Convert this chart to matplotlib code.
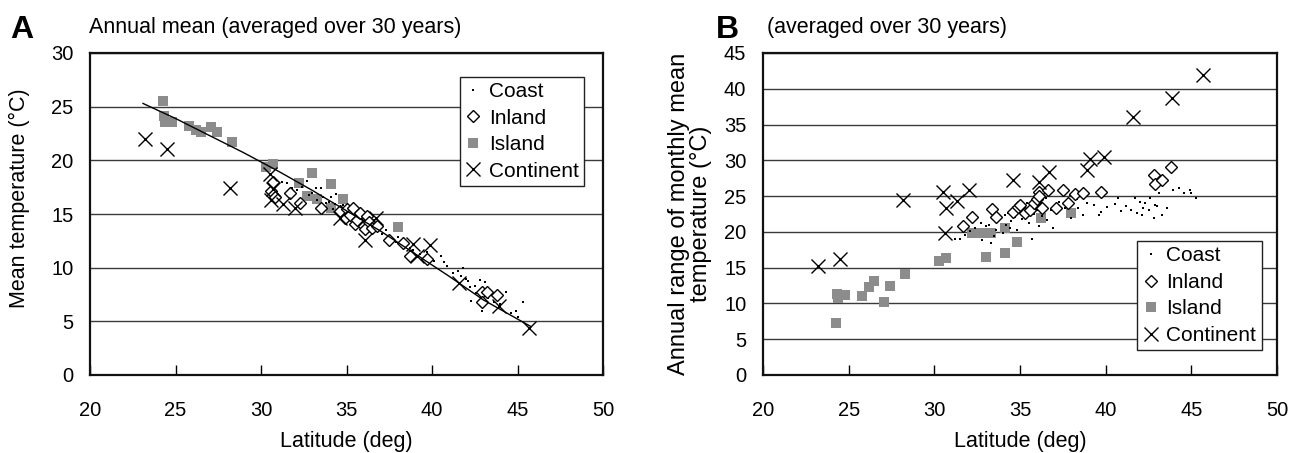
import matplotlib
matplotlib.use("Agg")
import matplotlib.pyplot as plt

plt.rcParams['font.family'] = ['Liberation Sans', 'DejaVu Sans']

# ---------------- data ----------------
coast_lat = [31.2, 31.5, 31.8, 32.1, 32.4, 32.7, 32.8, 33.0, 33.2, 33.3, 33.5, 33.6, 33.8, 34.0,
             34.1, 34.2, 34.3, 34.4, 34.5, 34.6, 34.7, 34.8, 34.9, 35.0, 35.1, 35.2, 35.3, 35.4,
             35.5, 35.6, 35.7, 35.8, 35.9, 36.0, 36.1, 36.2, 36.3, 36.4, 36.5, 36.6, 36.8, 36.9,
             37.1, 37.3, 37.6, 38.0, 38.3, 38.4, 38.7, 38.9, 39.3, 39.6, 39.7, 40.1, 40.55, 40.7,
             40.9, 41.2, 41.5, 41.7, 41.8, 42.0, 42.1, 42.2, 42.3, 42.6, 42.8, 42.9, 43.1, 43.3,
             43.6, 43.95, 44.3, 44.6, 44.9, 45.0, 45.3, 42.5, 43.0, 37.9]
coast_mean = [18.0, 17.9, 17.4, 17.2, 17.5, 18.1, 16.8, 17.0, 17.4, 16.3, 17.4, 16.6, 16.0, 16.1,
              16.6, 15.5, 15.9, 16.9, 15.2, 15.6, 15.0, 15.8, 15.3, 14.8, 15.6, 15.0, 14.6, 15.4,
              14.9, 14.3, 15.1, 14.7, 14.0, 14.9, 14.3, 13.8, 14.6, 14.0, 13.6, 14.4, 13.5, 13.9,
              13.1, 13.5, 12.8, 12.9, 12.2, 12.5, 11.8, 11.6, 11.3, 11.0, 11.5, 10.6, 11.1, 10.5,
              10.2, 9.5, 9.7, 9.2, 10.0, 8.9, 8.75, 8.2, 6.9, 7.6, 8.85, 6.0, 8.7, 7.2,
              6.8, 6.6, 7.7, 5.8, 6.0, 5.4, 6.8, 8.3, 7.4, 12.4]
coast_range = [19.0, 19.0, 19.6, 20.1, 20.5, 21.3, 18.9, 20.8, 21.0, 18.5, 19.4, 20.3, 21.6, 19.8,
               22.3, 21.0, 22.7, 20.5, 21.5, 23.0, 22.1, 20.2, 23.5, 22.6, 21.8, 23.8, 22.9, 24.1,
               21.2, 23.4, 19.0, 22.5, 24.4, 23.1, 20.8, 24.0, 22.2, 23.6, 24.8, 21.6, 23.0, 20.6,
               22.7, 24.2, 23.4, 21.9, 24.6, 23.3, 22.3, 24.0, 23.7, 22.4, 22.8, 23.5, 23.9, 24.7,
               22.9, 23.6, 23.1, 24.7, 22.6, 24.2, 22.3, 23.3, 24.0, 24.7, 21.9, 23.8, 25.5, 22.4,
               23.4, 25.9, 26.1, 25.4, 25.8, 25.5, 24.7, 23.0, 23.6, 25.2]

inland_lat_a = [30.6, 30.7, 30.8, 31.7, 32.3, 33.5, 34.6, 34.9, 35.0, 35.2, 35.4, 35.5, 35.6, 35.8,
                36.0, 36.1, 36.2, 36.3, 36.5, 36.8, 37.5, 38.3, 38.7, 39.7, 42.9, 42.9, 43.2, 43.8]
inland_mean = [17.1, 18.0, 16.6, 17.0, 16.0, 15.6, 15.3, 14.6, 15.5, 14.9, 15.6, 14.1, 14.4, 15.1,
               13.9, 13.6, 14.8, 14.3, 13.7, 13.9, 12.6, 12.3, 11.1, 10.8, 7.7, 6.8, 7.7, 7.5]

inland_lat_b = [31.7, 32.2, 33.35, 33.6, 34.6, 34.9, 35.0, 35.3, 35.6, 35.8, 36.0, 36.1, 36.1,
                36.3, 36.65, 37.1, 37.5, 37.8, 38.2, 38.7, 39.7, 42.8, 42.9, 43.3, 43.8]
inland_range = [20.8, 22.1, 23.2, 22.1, 22.8, 23.5, 23.7, 22.6, 23.0, 24.0, 24.6, 25.6, 25.0,
                23.4, 25.8, 23.3, 25.8, 24.1, 25.35, 25.5, 25.6, 27.9, 26.7, 27.2, 29.1]

island_lat = [24.25, 24.3, 24.4, 24.8, 25.8, 26.2, 26.5, 27.05, 27.4, 28.3, 30.3, 30.7, 32.2,
              32.7, 33.0, 33.3, 34.1, 34.1, 34.8, 36.2, 38.0]
island_mean = [25.5, 24.1, 23.6, 23.6, 23.2, 22.8, 22.6, 23.1, 22.6, 21.7, 19.4, 19.7, 17.9,
               16.7, 18.8, 16.4, 17.8, 15.6, 16.4, 14.3, 13.8]
island_range = [7.3, 11.3, 10.7, 11.2, 11.0, 12.35, 13.2, 10.2, 12.4, 14.1, 15.9, 16.3, 19.9,
                19.9, 16.5, 19.9, 17.1, 20.6, 18.6, 22.0, 22.7]

cont_lat = [23.2, 24.5, 28.2, 30.5, 30.6, 30.7, 31.3, 32.0, 34.6, 36.1, 36.7, 38.9, 39.1, 39.9,
            41.6, 43.9, 45.7]
cont_mean = [22.0, 21.1, 17.4, 18.7, 16.3, 17.3, 15.9, 15.6, 14.6, 12.6, 14.6, 12.2, 11.1, 12.1,
             8.6, 6.4, 4.4]
cont_range = [15.3, 16.2, 24.5, 25.6, 19.8, 23.3, 24.3, 25.9, 27.3, 27.0, 28.4, 28.6, 30.2, 30.4,
              36.0, 38.7, 41.9]

trend_lat = [23.1, 25.0, 27.0, 29.0, 31.0, 33.0, 35.0, 37.0, 39.0, 41.0, 43.0, 45.8]
trend_mean = [25.3, 23.9, 22.3, 20.7, 19.0, 17.2, 15.3, 13.4, 11.3, 9.2, 7.0, 4.5]

labels = ["Coast", "Inland", "Island", "Continent"]
xticks = [20, 25, 30, 35, 40, 45, 50]
yticks_a = [0, 5, 10, 15, 20, 25, 30]
yticks_b = [0, 5, 10, 15, 20, 25, 30, 35, 40, 45]

# ---------------- styling ----------------
GRAY = '#8c8c8c'
TICK_FS = 14.5
LAB_FS = 15.5

fig = plt.figure(figsize=(12.89, 4.53), dpi=100)
ax_a = fig.add_axes([90/1289, 78/453, 513/1289, 322/453])
ax_b = fig.add_axes([763/1289, 78/453, 514/1289, 322/453])


def style(ax, yticks):
    ax.set_xlim(20, 50)
    ax.set_ylim(yticks[0], yticks[-1])
    ax.set_xticks(xticks)
    ax.set_yticks(yticks)
    ax.grid(axis='y', color='#3a3a3a', lw=1.0)
    ax.set_axisbelow(True)
    for s in ax.spines.values():
        s.set_linewidth(1.6)
        s.set_color('#111111')
    ax.tick_params(axis='x', direction='in', length=7, width=1, pad=19, labelsize=TICK_FS)
    ax.tick_params(axis='y', length=0, pad=12, labelsize=TICK_FS)
    ax.set_xlabel("Latitude (deg)", fontsize=LAB_FS)
    ax.xaxis.set_label_coords(0.5, -0.175)


def draw(ax, data):
    (cl, cv), (il, iv), (sl, sv), (nl, nv) = data
    h1, = ax.plot(cl, cv, 's', ms=2.0, color='black', mew=0, zorder=3)
    h2, = ax.plot(il, iv, 'D', ms=6.3, mfc='white', mec='black', mew=1.0, zorder=4)
    h3, = ax.plot(sl, sv, 's', ms=6.5, color=GRAY, mew=0, zorder=2)
    h4, = ax.plot(nl, nv, 'x', ms=9.5, color='black', mew=1.0, zorder=5)
    return [h1, h2, h3, h4]


style(ax_a, yticks_a)
hs = draw(ax_a, [(coast_lat, coast_mean), (inland_lat_a, inland_mean),
                 (island_lat, island_mean), (cont_lat, cont_mean)])
ax_a.plot(trend_lat, trend_mean, '-', color='black', lw=1.0, zorder=6)
ax_a.set_ylabel("Mean temperature (°C)", fontsize=LAB_FS)
ax_a.yaxis.set_label_coords(-0.117, 0.55)

style(ax_b, yticks_b)
draw(ax_b, [(coast_lat, coast_range), (inland_lat_b, inland_range),
            (island_lat, island_range), (cont_lat, cont_range)])
ax_b.set_ylabel("Annual range of monthly mean\ntemperature (°C)", fontsize=17, linespacing=1.0)
ax_b.yaxis.set_label_coords(-0.1, 0.5)


def legend(ax, loc, anchor):
    lg = ax.legend(hs, labels, loc=loc, bbox_to_anchor=anchor, fontsize=15,
                   frameon=True, fancybox=False, edgecolor='#222222', framealpha=1,
                   handlelength=0.8, handletextpad=0.35, labelspacing=0.36,
                   borderpad=0.25, borderaxespad=0)
    lg.get_frame().set_linewidth(1.0)
    return lg


legend(ax_a, 'upper right', (0.963, 0.926))
legend(ax_b, 'lower right', (0.97, 0.077))

fig.text(10/1289, 1 - 30/453, "A", fontsize=23, fontweight='bold', va='center', ha='left')
fig.text(89/1289, 1 - 28/453, "Annual mean (averaged over 30 years)", fontsize=LAB_FS,
         va='center', ha='left')
fig.text(716/1289, 1 - 30/453, "B", fontsize=23, fontweight='bold', va='center', ha='left')
fig.text(767/1289, 1 - 28/453, "(averaged over 30 years)", fontsize=LAB_FS,
         va='center', ha='left')

fig.savefig("out.png", dpi=100)
